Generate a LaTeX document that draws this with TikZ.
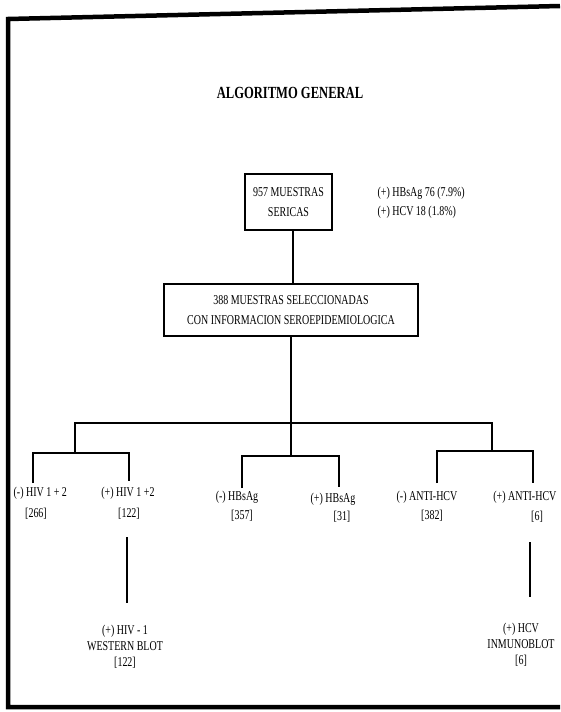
\documentclass[tikz,border=0pt]{standalone}
\usepackage{fontspec}
\setmainfont[FakeStretch=0.74]{Liberation Serif}
\begin{document}
\begin{tikzpicture}[x=1pt, y=-1pt, line width=1.2pt,
			box/.style = {draw, line width=1.1pt, align=center, inner sep=0pt, font=\fontsize{13.5}{20}\selectfont},
			letter/.style={align=center, inner sep=0pt, font=\fontsize{13.5}{16}\selectfont}]

			\useasboundingbox (0,0) rectangle (560,712);
			% marco
			\draw[line width=4.5pt] (560,6) -- (8,19) -- (8,707) -- (560,707);

			\node[font=\bfseries\fontsize{17}{19}\selectfont] (titulo) at (290,93) {ALGORITMO GENERAL};
			\node[box, minimum width=87pt, minimum height=56pt] (m957) at (288.5,202) {957 MUESTRAS\\SERICAS};
			\node[letter, anchor=west, align=left, font=\fontsize{13.5}{19}\selectfont] (pos) at (377,202.5) {(+) HBsAg 76 (7.9\%)\\(+) HCV 18 (1.8\%)};
			\node[box, minimum width=254pt, minimum height=52pt] (m388) at (291,310) {388 MUESTRAS SELECCIONADAS\\CON INFORMACION SEROEPIDEMIOLOGICA};

			\coordinate (enlace) at (293,230);
			\coordinate (tronco) at (291,456);
			\coordinate (hivj) at (75,423);
			\coordinate (hcvj) at (492,423);
			\coordinate (hivb) at (75,453);
			\coordinate (hcvb) at (492,451);
			\coordinate (hivn) at (33,483);
			\coordinate (hivp) at (129,481);
			\coordinate (hbn) at (242,488);
			\coordinate (hbp) at (339,487);
			\coordinate (hcvn) at (437,483);
			\coordinate (hcvp) at (533,483);
			\coordinate (wba) at (127,537);
			\coordinate (wbb) at (127,603);
			\coordinate (iba) at (530,542);
			\coordinate (ibb) at (530,597);

			\draw[-] (enlace) -- (enlace |- m388.north);
			\draw[-] (m388.south -| tronco) -- (tronco);
			\draw[-] (hivb) -- (hivj) -- (hcvj) -- (hcvb);
			\draw[-] (hivn) |- (hivb) -| (hivp);
			\draw[-] (hbn) |- (tronco) -| (hbp);
			\draw[-] (hcvn) |- (hcvb) -| (hcvp);
			\draw[-] (wba) -- (wbb);
			\draw[-] (iba) -- (ibb);

			\node[letter, anchor=west] (hivneg) at (13,493) {(-) HIV 1 + 2};
			\node[letter] (hivnegn) at (36,514) {[266]};
			\node[letter] (hivpos) at (128,493) {(+) HIV 1 +2};
			\node[letter] (hivposn) at (129,514) {[122]};
			\node[letter] (hbneg) at (237,497) {(-) HBsAg};
			\node[letter] (hbnegn) at (242,516) {[357]};
			\node[letter] (hbpos) at (333,499) {(+) HBsAg};
			\node[letter] (hbposn) at (342,517) {[31]};
			\node[letter] (hcvneg) at (427,497) {(-) ANTI-HCV};
			\node[letter] (hcvnegn) at (432,516) {[382]};
			\node[letter, anchor=east] (hcvpos) at (557,497) {(+) ANTI-HCV};
			\node[letter] (hcvposn) at (537,517) {[6]};

			\node[letter] (wb) at (125,647) {(+) HIV - 1\\WESTERN BLOT\\{[122]}};
			\node[letter] (ib) at (521,645) {(+) HCV\\INMUNOBLOT\\{[6]}};

		\end{tikzpicture}
\end{document}
